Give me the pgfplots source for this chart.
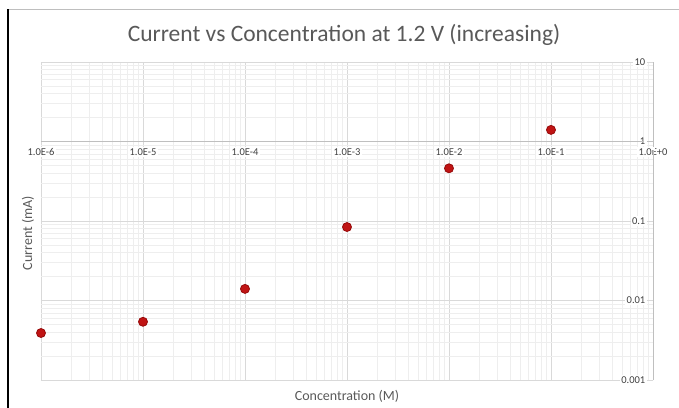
\documentclass[border=0pt]{standalone}
\usepackage{pgfplots}
\pgfplotsset{compat=1.18}
\usepackage{fontspec}
\setmainfont{Carlito}
\definecolor{txt}{RGB}{89,89,89}
\definecolor{tick}{RGB}{64,64,64}
\definecolor{mk}{RGB}{192,20,20}
\definecolor{mkedge}{RGB}{150,10,10}
\begin{document}
\begin{tikzpicture}
\useasboundingbox (0bp,0bp) rectangle (679bp,408bp);
\draw[color={rgb,255:red,190;green,190;blue,190}, line width=0.8bp] (8bp,399bp) -- (679bp,399bp);
\draw[black, line width=1.2bp] (8bp,0bp) -- (8bp,399bp);
\node[text=txt, font=\fontsize{23.5bp}{27bp}\selectfont] at (344bp,373bp) {Current vs Concentration at 1.2 V (increasing)};
\begin{axis}[
  at={(41bp,28bp)}, anchor=south west,
  scale only axis, width=612bp, height=318bp,
  xmode=log, ymode=log,
  xmin=1e-6, xmax=1, ymin=1e-3, ymax=10,
  axis line style={draw=none},
  major tick length=0pt, minor tick length=0pt,
  grid=both,
  major grid style={color={rgb,255:red,217;green,217;blue,217}, line width=0.6bp},
  minor grid style={color={rgb,255:red,238;green,238;blue,238}, line width=0.5bp},
  xtick={1e-6,1e-5,1e-4,1e-3,1e-2,1e-1,1},
  xticklabels={1.0E-6,1.0E-5,1.0E-4,1.0E-3,1.0E-2,1.0E-1,1.0E+0},
  minor xtick={2e-6,3e-6,4e-6,5e-6,6e-6,7e-6,8e-6,9e-6,
               2e-5,3e-5,4e-5,5e-5,6e-5,7e-5,8e-5,9e-5,
               2e-4,3e-4,4e-4,5e-4,6e-4,7e-4,8e-4,9e-4,
               2e-3,3e-3,4e-3,5e-3,6e-3,7e-3,8e-3,9e-3,
               2e-2,3e-2,4e-2,5e-2,6e-2,7e-2,8e-2,9e-2,
               0.2,0.3,0.4,0.5,0.6,0.7,0.8,0.9},
  ytick={1e-3,1e-2,1e-1,1,10},
  yticklabels={0.001,0.01,0.1,1,10},
  minor ytick={2e-3,3e-3,4e-3,5e-3,6e-3,7e-3,8e-3,9e-3,
               2e-2,3e-2,4e-2,5e-2,6e-2,7e-2,8e-2,9e-2,
               0.2,0.3,0.4,0.5,0.6,0.7,0.8,0.9,
               2,3,4,5,6,7,8,9},
  extra x ticks={1}, extra x tick labels={},
  extra x tick style={grid=major, major grid style={color={rgb,255:red,191;green,191;blue,191}, line width=0.8bp}},
  extra y ticks={1}, extra y tick labels={},
  extra y tick style={grid=major, major grid style={color={rgb,255:red,191;green,191;blue,191}, line width=0.8bp}},
  xticklabel style={font=\fontsize{10.5bp}{12bp}\selectfont, text=tick, anchor=north, yshift=233bp, fill=white, inner sep=1.5bp},
  yticklabel pos=right,
  yticklabel style={font=\fontsize{10.5bp}{12bp}\selectfont, text=tick, anchor=east, xshift=-6bp, fill=white, inner sep=1.5bp},
  xlabel={Concentration (M)},
  xlabel style={at={(axis description cs:0.5,0)}, anchor=center, yshift=-16bp, font=\fontsize{14bp}{16bp}\selectfont, text=txt},
  ylabel={Current (mA)},
  ylabel style={at={(axis description cs:0,0.5)}, anchor=center, xshift=-12bp, yshift=13bp, font=\fontsize{14bp}{16bp}\selectfont, text=txt},
  clip=false,
]
\addplot[only marks, mark=*, mark size=4.5bp, mark options={fill=mk, draw=mkedge, line width=0.8bp}]
coordinates {
(1e-6,0.0039)
(1e-5,0.0054)
(1e-4,0.0140)
(1e-3,0.084)
(1e-2,0.46)
(1e-1,1.40)
};
\end{axis}
\end{tikzpicture}
\end{document}
